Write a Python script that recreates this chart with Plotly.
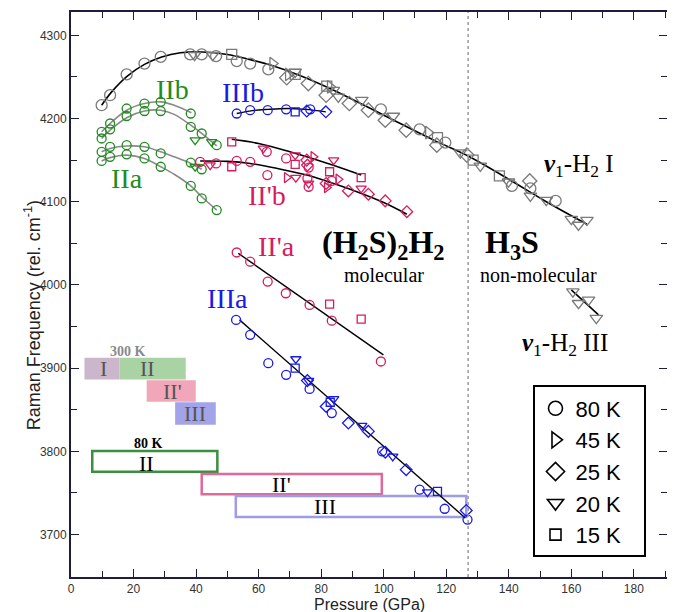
import plotly.graph_objects as go

# ---------------- data (pressure GPa, Raman shift cm-1, temperature) ----------------
h2i_p = [9.8, 12.5, 17.8, 23.5, 28.7, 38.1, 41.8, 46.4, 53.0, 57.3, 63.1, 99.1, 111.5, 119.7, 141.0, 146.9, 155.0,
         39.5, 45.3, 71.7, 83.9, 85.5, 93.0, 103.1, 124.5, 130.9, 139.9, 146.9, 152.0, 160.0, 162.3, 165.0,
         64.5, 69.5, 82.9, 114.3,
         69.0, 75.9, 81.6, 89.0, 95.1, 100.5, 107.2, 117.0, 126.6, 146.7,
         51.4, 71.7, 81.8, 117.2, 128.6, 137.0]
h2i_f = [4216, 4228, 4253, 4266, 4274, 4277, 4277, 4275, 4269, 4266, 4259, 4211, 4187, 4171, 4119, 4116, 4101,
         4276, 4276, 4256, 4234, 4226, 4222, 4203, 4159, 4143, 4124, 4107, 4102, 4079, 4072, 4078,
         4266, 4253, 4238, 4183,
         4249, 4242, 4228, 4218, 4210, 4198, 4186, 4168, 4156, 4125,
         4277, 4253, 4239, 4177, 4150, 4131]
h2i_t = ["80"] * 17 + ["20"] * 15 + ["45"] * 4 + ["25"] * 10 + ["15"] * 6

h2iii_p = [160.5, 162.3, 165.5, 168.0]
h2iii_f = [3992, 3978, 3982, 3960]
h2iii_t = ["20"] * 4

iiib_p = [53.0, 57.3, 62.9, 68.8, 76.5, 71.7, 75.4, 81.5]
iiib_f = [4206, 4210, 4210, 4211, 4211, 4208, 4209, 4208]
iiib_t = ["80"] * 5 + ["15"] + ["25"] * 2

green_p = [9.8, 12.5, 17.8, 23.5, 28.7, 38.3,
           9.8, 12.5, 17.8, 23.5, 28.7, 38.3, 41.8, 46.6,
           9.8, 12.5, 17.8, 23.5, 28.7, 38.3, 41.8,
           9.8, 12.5, 17.8, 23.5, 28.7, 38.3, 41.8, 46.6,
           39.7, 45.0, 39.7]
green_f = [4184, 4194, 4212, 4218, 4220, 4206,
           4176, 4187, 4203, 4209, 4209, 4190, 4182, 4168,
           4160, 4166, 4168, 4166, 4158, 4147, 4139,
           4149, 4154, 4157, 4152, 4142, 4119, 4104, 4090,
           4174, 4172, 4142]
green_t = ["80"] * 29 + ["20"] * 3

iipb_p = [41.3, 46.4, 53.0, 57.3, 62.6, 62.8, 68.8, 75.6, 76.0, 76.0, 83.4,
          44.5, 61.5, 71.7, 71.9, 84.0, 92.8, 76.0,
          69.0, 77.5, 81.8, 85.5,
          75.4, 75.6, 81.6, 88.7, 95.1, 100.5, 107.4,
          51.4, 51.4, 71.7, 82.7, 92.8]
iipb_f = [4148, 4146, 4149, 4148, 4160, 4132, 4152, 4128, 4141, 4118, 4125,
          4144, 4164, 4156, 4129, 4150, 4116, 4122,
          4129, 4154, 4117, 4127,
          4150, 4144, 4122, 4113, 4109, 4101, 4088,
          4172, 4142, 4145, 4136, 4129]
iipb_t = ["80"] * 11 + ["20"] * 7 + ["45"] * 4 + ["25"] * 7 + ["15"] * 5

iipa_p = [53.0, 57.3, 62.9, 68.7, 76.3, 83.4, 99.1, 82.7, 92.8]
iipa_f = [4039, 4028, 4004, 3990, 3976, 3957, 3908, 3977, 3959]
iipa_t = ["80"] * 7 + ["15"] * 2

iiia_p = [52.8, 57.3, 63.1, 68.8, 76.3, 83.4, 99.5, 111.5, 119.5, 126.8,
          71.9, 76.0, 84.0, 93.0, 102.9, 114.0,
          71.7, 82.9, 117.2,
          75.6, 81.6, 88.7, 95.1, 100.5, 107.2, 126.4]
iiia_f = [3958, 3940, 3906, 3892, 3875, 3846, 3800, 3754, 3731, 3718,
          3911, 3885, 3863, 3831, 3794, 3751,
          3900, 3859, 3752,
          3885, 3854, 3834, 3824, 3799, 3778, 3729]
iiia_t = ["80"] * 10 + ["20"] * 6 + ["15"] * 3 + ["25"] * 7

# fitted curves (knots)
fit_h2i_p = [9.8, 13, 18, 23.5, 29, 35, 42, 50, 57, 64, 73, 84, 100, 116, 127, 140, 152, 165]
fit_h2i_f = [4216, 4232, 4251, 4265, 4274, 4279, 4280, 4277, 4271, 4264, 4252, 4234, 4204, 4174, 4155, 4127, 4100, 4073]
fit_h2iii_p = [160, 168.7]
fit_h2iii_f = [3994, 3964]
fit_iiib_p = [53, 58, 63, 69, 75, 81.5]
fit_iiib_f = [4206, 4209.5, 4211, 4212, 4211, 4208]
fit_iib1_p = [9.8, 12.5, 17.8, 23.5, 28.7, 33, 38.5]
fit_iib1_f = [4184, 4194, 4210, 4218, 4220, 4216, 4207]
fit_iib2_p = [9.8, 12.5, 17.8, 23.5, 28.7, 33, 38.3, 41.8, 46.6]
fit_iib2_f = [4176, 4186, 4201, 4209, 4210, 4205, 4192, 4182, 4167]
fit_iia1_p = [9.8, 12.5, 17.8, 23.5, 28.7, 33, 38.3, 41.8]
fit_iia1_f = [4160, 4164, 4167, 4166, 4160, 4154, 4146, 4139]
fit_iia2_p = [9.8, 12.5, 17.8, 23.5, 28.7, 33, 38.3, 41.8, 46.6]
fit_iia2_f = [4149, 4153, 4156, 4152, 4142, 4133, 4119, 4106, 4090]
fit_iipb1_p = [51.4, 60, 70, 82.9, 92.8]
fit_iipb1_f = [4175, 4170, 4160, 4145, 4132]
fit_iipb2_p = [41.3, 50, 57.3, 66, 75.4, 83, 91.4, 100, 107.4]
fit_iipb2_f = [4149, 4148.5, 4146, 4140, 4132, 4123, 4112, 4099, 4085]
fit_iipa_p = [53.5, 99.9]
fit_iipa_f = [4038, 3916]
fit_iiia_p = [53.9, 126.1]
fit_iiia_f = [3958, 3720]

# phase bars: 300 K (filled) and 80 K (outlined)
bar300_labels = ["I", "II", "II'", "III"]
bar300_p0 = [4.3, 15.5, 24.2, 33.3]
bar300_p1 = [15.5, 36.7, 39.9, 46.3]
bar300_f0 = [3886.4, 3886.4, 3859.6, 3832.0]
bar300_f1 = [3912.4, 3912.4, 3885.5, 3859.1]
bar300_colors = ["#cbb6cb", "#a9d3a5", "#f1a7b9", "#a3a3e9"]
bar80_labels = ["II", "II'", "III"]
bar80_p0 = [6.8, 41.8, 52.7]
bar80_p1 = [46.8, 99.4, 126.4]
bar80_f0 = [3775.6, 3748.4, 3721.0]
bar80_f1 = [3800.3, 3772.7, 3746.3]
bar80_colors = ["#3a9040", "#e0699a", "#9c9ce8"]

temps = ["80", "45", "25", "20", "15"]
symbols = {"80": "circle-open", "45": "triangle-right-open", "25": "diamond-open",
           "20": "triangle-down-open", "15": "square-open"}

GRAY = "#7a7a7a"
GREEN = "#228b22"
PINK = "#d81b5e"
BLUE = "#1a1ae6"

fig = go.Figure()


def add_fit(px, py, color, width=1.6):
    fig.add_trace(go.Scatter(x=px, y=py, mode="lines", line=dict(color=color, width=width, shape="spline"),
                             showlegend=False, hoverinfo="skip"))


def add_points(p, f, t, color, size):
    for tt in temps:
        xs = [a for a, b in zip(p, t) if b == tt]
        ys = [a for a, b in zip(f, t) if b == tt]
        if not xs:
            continue
        sz = size if tt != "15" else size - 1
        fig.add_trace(go.Scatter(x=xs, y=ys, mode="markers", showlegend=False,
                                 marker=dict(symbol=symbols[tt], size=sz, color=color,
                                             line=dict(width=1.3, color=color))))


add_fit(fit_h2i_p, fit_h2i_f, "black")
add_fit(fit_h2iii_p, fit_h2iii_f, "black")
add_fit(fit_iiib_p, fit_iiib_f, "black", 1.4)
add_fit(fit_iib1_p, fit_iib1_f, "#8a8a8a")
add_fit(fit_iib2_p, fit_iib2_f, "#8a8a8a")
add_fit(fit_iia1_p, fit_iia1_f, "#8a8a8a")
add_fit(fit_iia2_p, fit_iia2_f, "#8a8a8a")
add_fit(fit_iipb1_p, fit_iipb1_f, "black")
add_fit(fit_iipb2_p, fit_iipb2_f, "black")
add_fit(fit_iipa_p, fit_iipa_f, "black", 1.4)
add_fit(fit_iiia_p, fit_iiia_f, "black", 1.4)

add_points(h2i_p, h2i_f, h2i_t, GRAY, 11)
add_points(h2iii_p, h2iii_f, h2iii_t, GRAY, 11)
add_points(iiib_p, iiib_f, iiib_t, BLUE, 9)
add_points(green_p, green_f, green_t, GREEN, 9)
add_points(iipb_p, iipb_f, iipb_t, PINK, 9)
add_points(iipa_p, iipa_f, iipa_t, PINK, 9)
add_points(iiia_p, iiia_f, iiia_t, BLUE, 9)

# legend entries
for tt in temps:
    fig.add_trace(go.Scatter(x=[None], y=[None], mode="markers", name=f"{tt} K&nbsp;&nbsp;&nbsp;",
                             marker=dict(symbol=symbols[tt], size=14 if tt != "15" else 11, color="black",
                                         line=dict(width=1.6, color="black"))))

shapes = []
ann = []
SERIF = "Liberation Serif"
for lab, a0, a1, b0, b1, c in zip(bar300_labels, bar300_p0, bar300_p1, bar300_f0, bar300_f1, bar300_colors):
    shapes.append(dict(type="rect", xref="x", yref="y", x0=a0, x1=a1, y0=b0, y1=b1,
                       fillcolor=c, line=dict(width=0), layer="below"))
for lab, a0, a1, b0, b1, c in zip(bar80_labels, bar80_p0, bar80_p1, bar80_f0, bar80_f1, bar80_colors):
    shapes.append(dict(type="rect", xref="x", yref="y", x0=a0, x1=a1, y0=b0, y1=b1,
                       fillcolor="rgba(0,0,0,0)", line=dict(width=2.5, color=c), layer="below"))
shapes.append(dict(type="line", xref="x", yref="paper", x0=127, x1=127, y0=0, y1=1,
                   line=dict(color="#9a9a9a", width=1.5, dash="dot")))

bar300_tx = [10.3, 24.4, 32.5, 39.7]
bar300_ty = [3899, 3899, 3872, 3845]
for lab, x, y in zip(bar300_labels, bar300_tx, bar300_ty):
    ann.append(dict(x=x, y=y, text=lab, showarrow=False, font=dict(family=SERIF, size=22, color="#555555")))
bar80_tx = [24.2, 67.4, 81.3]
bar80_ty = [3786, 3760, 3734]
for lab, x, y in zip(bar80_labels, bar80_tx, bar80_ty):
    ann.append(dict(x=x, y=y, text=lab, showarrow=False, font=dict(family=SERIF, size=22, color="black")))

ann.append(dict(x=18.3, y=3920, text="<b>300 K</b>", showarrow=False, font=dict(family=SERIF, size=14, color="#8a8a8a")))
ann.append(dict(x=24.7, y=3810, text="<b>80 K</b>", showarrow=False, font=dict(family=SERIF, size=14, color="black")))

labels = [("IIb", 32.5, 4235, GREEN), ("IIa", 17.8, 4128, GREEN), ("IIIb", 55.0, 4231, BLUE),
          ("II'b", 62.6, 4108, PINK), ("II'a", 65.8, 4046, PINK), ("IIIa", 50.2, 3984, BLUE)]
for txt, x, y, c in labels:
    ann.append(dict(x=x, y=y, text=txt, showarrow=False, font=dict(family=SERIF, size=28, color=c)))

ann.append(dict(x=99.8, y=4048, text="<b>(H<sub>2</sub>S)<sub>2</sub>H<sub>2</sub></b>", showarrow=False,
                font=dict(family=SERIF, size=32, color="black")))
ann.append(dict(x=100, y=4012, text="molecular", showarrow=False, font=dict(family=SERIF, size=20, color="black")))
ann.append(dict(x=141, y=4048, text="<b>H<sub>3</sub>S</b>", showarrow=False, font=dict(family=SERIF, size=32, color="black")))
ann.append(dict(x=149.5, y=4012, text="non-molecular", showarrow=False, font=dict(family=SERIF, size=20, color="black")))
ann.append(dict(x=162.3, y=4144, text="<b><i>ν</i></b><sub>1</sub>-H<sub>2</sub> I", showarrow=False,
                font=dict(family=SERIF, size=25, color="black")))
ann.append(dict(x=158, y=3928, text="<b><i>ν</i></b><sub>1</sub>-H<sub>2</sub> III", showarrow=False,
                font=dict(family=SERIF, size=25, color="black")))

ann.append(dict(xref="paper", yref="paper", x=0.5, y=-0.048, text="Pressure (GPa)", showarrow=False,
                font=dict(family="Liberation Sans", size=16, color="#222222"), yanchor="middle"))
ann.append(dict(xref="paper", yref="paper", x=-0.064, y=0.463, text="Raman Frequency (rel. cm<sup>-1</sup>)",
                showarrow=False, textangle=-90, font=dict(family="Liberation Sans", size=18, color="#222222"),
                xanchor="center", yanchor="middle"))

FRAME = "#1e1e3c"
axis_common = dict(showline=True, linecolor=FRAME, linewidth=2, mirror="ticks", ticks="inside",
                   ticklen=8, tickwidth=1.4, tickcolor=FRAME, showgrid=False, zeroline=False, automargin=False,
                   tickfont=dict(family="Liberation Sans", size=12, color="#333333"))

# the page body adds an 8px offset, so the figure is 8px smaller than the window
fig.update_layout(
    width=667, height=604,
    margin=dict(l=63, r=8, t=4, b=35),
    plot_bgcolor="white", paper_bgcolor="white",
    xaxis=dict(range=[0, 190.6], tick0=0, dtick=20,
               minor=dict(dtick=10, ticks="inside", ticklen=6, tickcolor=FRAME, tickwidth=1.2), **axis_common),
    yaxis=dict(range=[3649, 4328], tick0=3700, dtick=100,
               minor=dict(dtick=50, ticks="inside", ticklen=6, tickcolor=FRAME, tickwidth=1.2), **axis_common),
    shapes=shapes, annotations=ann,
    legend=dict(x=0.776, y=0.339, xanchor="left", yanchor="top", bordercolor="black", borderwidth=2,
                bgcolor="white", font=dict(family="Liberation Sans", size=22, color="black"),
                itemsizing="trace", tracegroupgap=0),
    showlegend=True,
)

fig.write_html("out.html")
